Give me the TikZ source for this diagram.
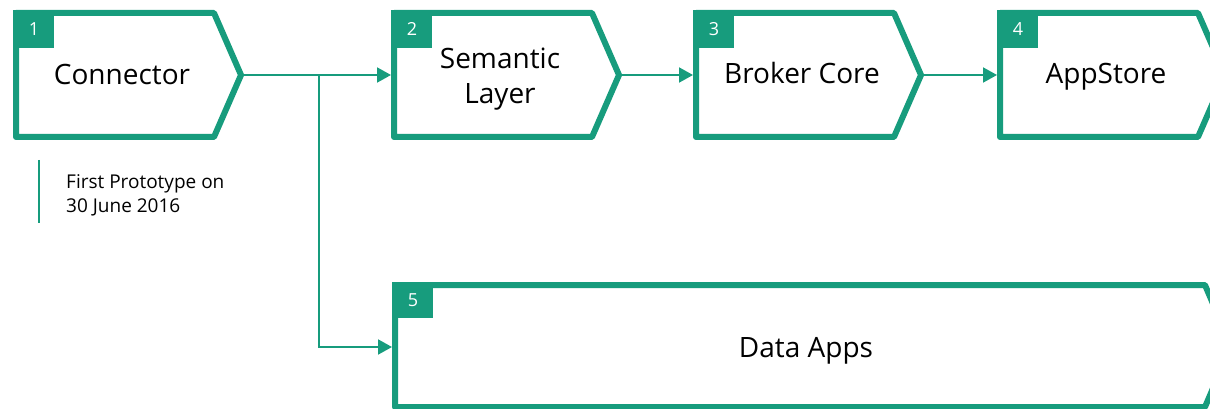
\documentclass[tikz,border=0pt]{standalone}
\usepackage{fontspec}
\setmainfont{Open Sans}
\usetikzlibrary{arrows.meta}
\definecolor{fhgreen}{HTML}{179C7D}

\tikzset{
  boxline/.style={draw=fhgreen, line width=6pt, line join=round, fill=white},
  badge/.style={fill=fhgreen},
  numlabel/.style={text=white, inner sep=0pt, font=\fontsize{18}{18}\selectfont},
  boxlabel/.style={inner sep=0pt, align=center, font=\fontsize{28}{35}\selectfont},
  notelabel/.style={inner sep=0pt, align=left, font=\fontsize{19}{24}\selectfont},
  link/.style={draw=fhgreen, line width=2pt, -{Triangle[length=14pt,width=15pt]}},
  noteline/.style={draw=fhgreen, line width=2pt},
}

% One numbered process step: #1 name, #2 left edge, #3 number, #4 label, #5 label placement
\newcommand\stagebox[5]{%
  \begin{scope}[xshift=#2pt]
    \draw[boxline] (3,13) -- (201,13) -- (228,75) -- (201,137) -- (3,137) -- cycle;
    \fill[badge] (0,10) rectangle (41,48);
    \node[numlabel] (#1-num) at (21,29) {#3};
    \node[boxlabel, #5] (#1) {#4};
    \coordinate (#1-in) at (0,75);
    \coordinate (#1-out) at (231,75);
  \end{scope}}

\begin{document}
\begin{tikzpicture}[x=1pt,y=-1pt]
  \useasboundingbox (0,0) rectangle (1210,409);
  \clip (0,0) rectangle (1210,409);

  \stagebox{connector}{13}{1}{Connector}{anchor=base, at={(109,85)}}
  \stagebox{semantic}{391}{2}{Semantic\\Layer}{anchor=north, at={(109,47.5)}}
  \stagebox{broker}{693}{3}{Broker Core}{anchor=base, at={(109,84)}}
  \stagebox{appstore}{997}{4}{AppStore}{anchor=base, at={(109,84)}}

  % wide step for the data apps
  \draw[boxline] (395,285) -- (1205,285) -- (1231,346) -- (1205,407) -- (395,407) -- cycle;
  \fill[badge] (392,282) rectangle (433,318);
  \node[numlabel] (apps-num) at (413,300) {5};
  \node[boxlabel, anchor=base] (apps) at (806,357) {Data Apps};
  \coordinate (apps-in) at (392,347);

  % connectors
  \coordinate (split) at (319,75);
  \draw[link] (connector-out) -- (semantic-in);
  \draw[link] (semantic-out) -- (broker-in);
  \draw[link] (broker-out) -- (appstore-in);
  \draw[link] (split) |- (apps-in);

  % milestone note
  \coordinate (note-top) at (39,160);
  \coordinate (note-bottom) at (39,223);
  \draw[noteline] (note-top) -- (note-bottom);
  \node[notelabel, anchor=north west] (note) at (66,174.5) {First Prototype on\\30 June 2016};
\end{tikzpicture}
\end{document}
